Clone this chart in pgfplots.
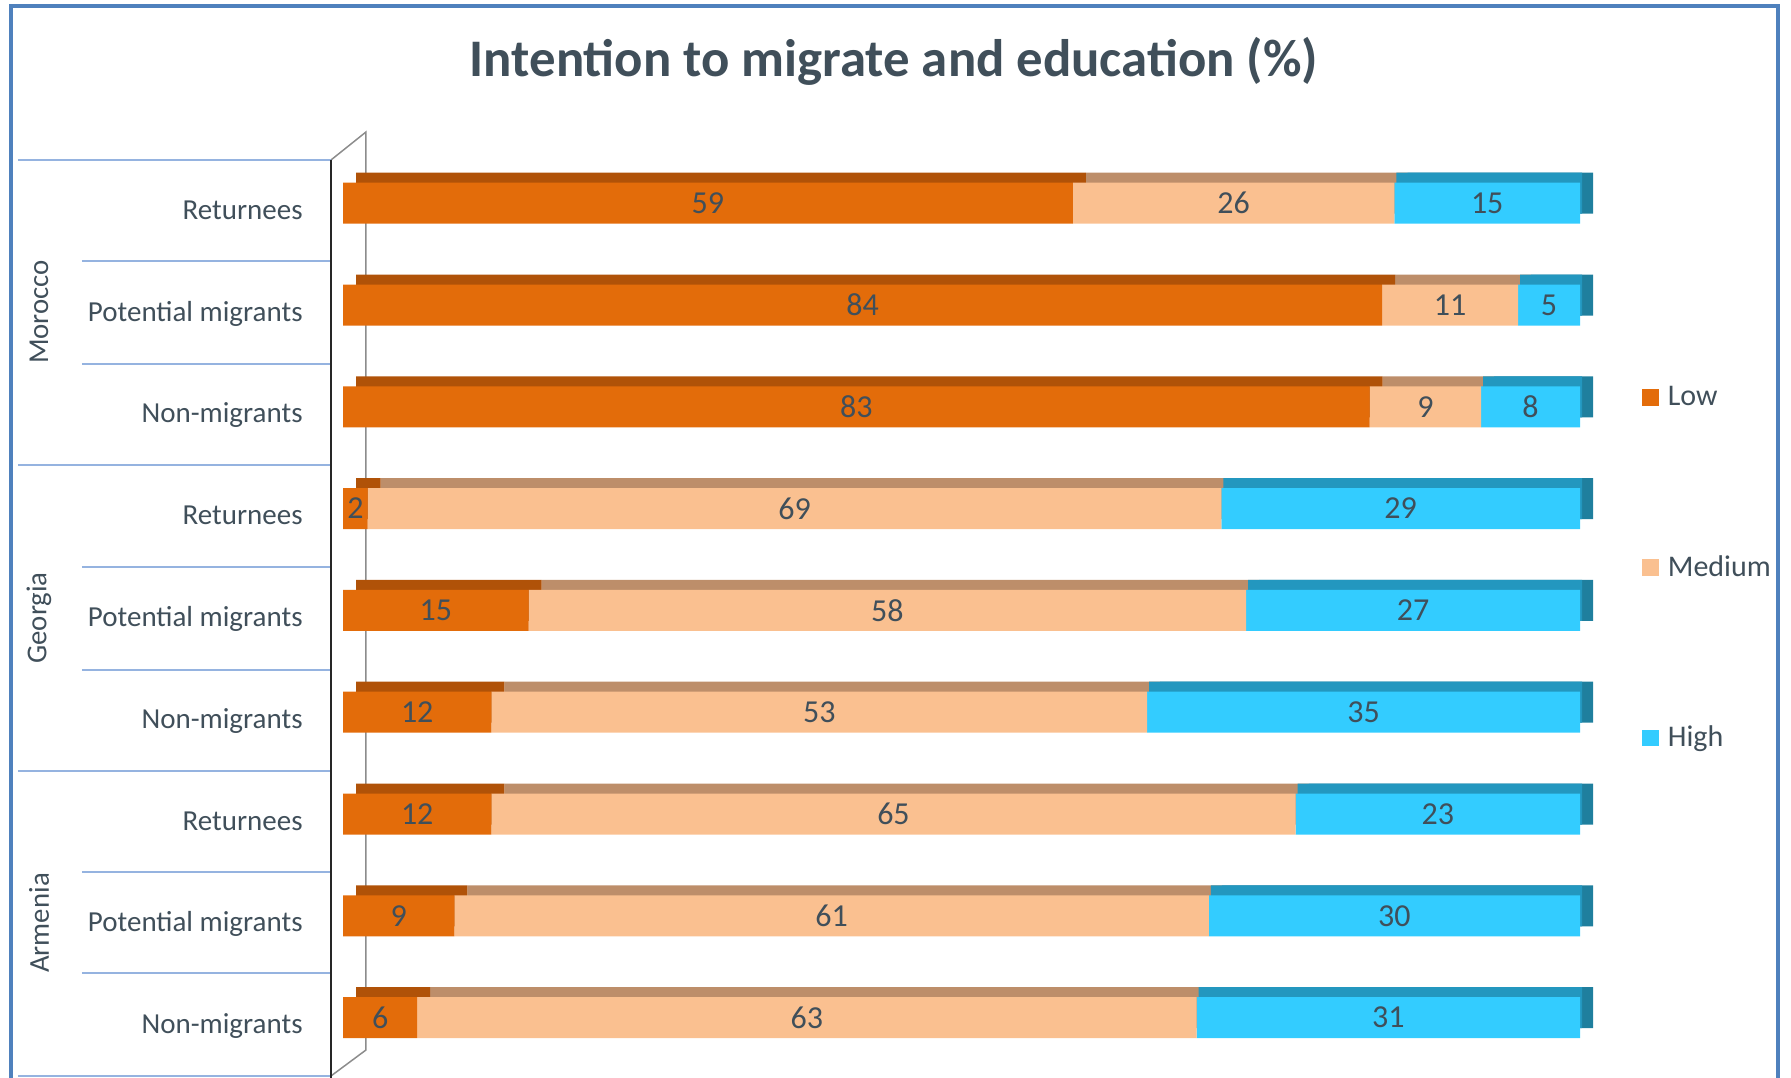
\documentclass[border=0pt]{standalone}
\usepackage{pgfplots}
\pgfplotsset{compat=1.18}
\usepackage{pgfplotstable}
\usepackage{fontspec}
\setmainfont{Carlito}

\definecolor{lowF}{HTML}{E36C0A}
\definecolor{lowT}{HTML}{B05208}
\definecolor{medF}{HTML}{FAC090}
\definecolor{medT}{HTML}{BD8E6A}
\definecolor{highF}{HTML}{33CCFF}
\definecolor{highT}{HTML}{2397BF}
\definecolor{highR}{HTML}{1F7F9E}
\definecolor{txt}{HTML}{404F5A}
\definecolor{frameblue}{HTML}{4F81BD}
\definecolor{sepblue}{HTML}{95B3E0}

\pgfplotstableread{
row low med high
1 59 26 15
2 84 11 5
3 83 9 8
4 2 69 29
5 15 58 27
6 12 53 35
7 12 65 23
8 9 61 30
9 6 63 31
}\datatable

\pgfplotsset{
  base/.style={scale only axis, width=618.5bp, height=458.1bp,
    xmin=0, xmax=100, ymin=0.5, ymax=9.5, y dir=reverse, anchor=center},
  sq/.style={legend image code/.code={\draw[##1, draw=none] (0bp,-4.2bp) rectangle (8.4bp,4.2bp);}},
}

\begin{document}
\begin{tikzpicture}
\path[use as bounding box] (0,0) rectangle (895.5bp,539bp);
\begin{scope}[x=0.5bp, y=-0.5bp, yshift=539bp]
  \draw[frameblue, line width=1.75bp] (11,6) rectangle (1778,1100);
  \node[txt, font=\fontsize{26.4bp}{30bp}\selectfont\bfseries, anchor=base] at (894,77) {Intention to migrate and education (\%)};
  \draw[black!45, line width=0.75bp] (331,160) -- (366,132) -- (366,1050) -- (331,1076);
  \foreach \yy in {160,465,771,1076} \draw[sepblue, line width=0.9bp] (18,\yy) -- (331,\yy);
  \foreach \yy in {261,364,567,670,872,973} \draw[sepblue, line width=0.9bp] (82,\yy) -- (331,\yy);
  \draw[black!85, line width=1bp] (331,160) -- (331,1078);
  \foreach \nm/\yy in {Morocco/312, Georgia/618, Armenia/923}
    \node[txt, rotate=90, font=\fontsize{14.4bp}{17bp}\selectfont] at (39,\yy) {\nm};
\end{scope}

% depth: top faces and right side face
\begin{axis}[base, at={(487.25bp,238.8bp)}, hide axis, xbar stacked, bar width=20.5bp]
\addplot[fill=lowT, draw=none] table[x=low, y=row]{\datatable};
\addplot[fill=medT, draw=none] table[x=med, y=row]{\datatable};
\addplot[fill=highR, draw=none] table[x=high, y=row]{\datatable};
\end{axis}
\begin{axis}[base, at={(481.75bp,238.8bp)}, hide axis, xbar stacked, bar width=20.5bp]
\addplot[fill=none, draw=none] table[x=low, y=row]{\datatable};
\addplot[fill=none, draw=none] table[x=med, y=row]{\datatable};
\addplot[fill=highT, draw=none] table[x=high, y=row]{\datatable};
\end{axis}

% front faces
\begin{axis}[base, at={(480.75bp,233.8bp)}, xbar stacked, bar width=20.5bp,
  axis line style={draw=none}, major tick length=0pt,
  xtick=\empty, ytick={1,...,9},
  yticklabels={Returnees,Potential migrants,Non-migrants,Returnees,Potential migrants,Non-migrants,Returnees,Potential migrants,Non-migrants},
  yticklabel style={anchor=base east, inner sep=0pt, xshift=-20bp, yshift=-8bp, text=txt, font=\fontsize{14.5bp}{17bp}\selectfont},
  legend style={draw=none, fill=none, at={(1.045,0.5)}, anchor=west, yshift=21.2bp,
    font=\fontsize{15bp}{18bp}\selectfont, text=txt, row sep=69.5bp,
    nodes={inner xsep=4.5bp}},
  legend cell align=left]
\addplot[fill=lowF, draw=none, sq] table[x=low, y=row]{\datatable};
\addplot[fill=medF, draw=none, sq] table[x=med, y=row]{\datatable};
\addplot[fill=highF, draw=none, sq] table[x=high, y=row]{\datatable};
\legend{Low,Medium,High}
\end{axis}

% value labels
\begin{axis}[base, at={(480.75bp,233.8bp)}, hide axis,
  every node near coord/.append style={anchor=center, text=txt, font=\fontsize{16bp}{19bp}\selectfont}]
\addplot[draw=none, nodes near coords, point meta=explicit symbolic] table[x expr=\thisrow{low}/2, y=row, meta=low]{\datatable};
\addplot[draw=none, nodes near coords, point meta=explicit symbolic] table[x expr=\thisrow{low}+\thisrow{med}/2, y=row, meta=med]{\datatable};
\addplot[draw=none, nodes near coords, point meta=explicit symbolic] table[x expr=\thisrow{low}+\thisrow{med}+\thisrow{high}/2, y=row, meta=high]{\datatable};
\end{axis}
\end{tikzpicture}
\end{document}
